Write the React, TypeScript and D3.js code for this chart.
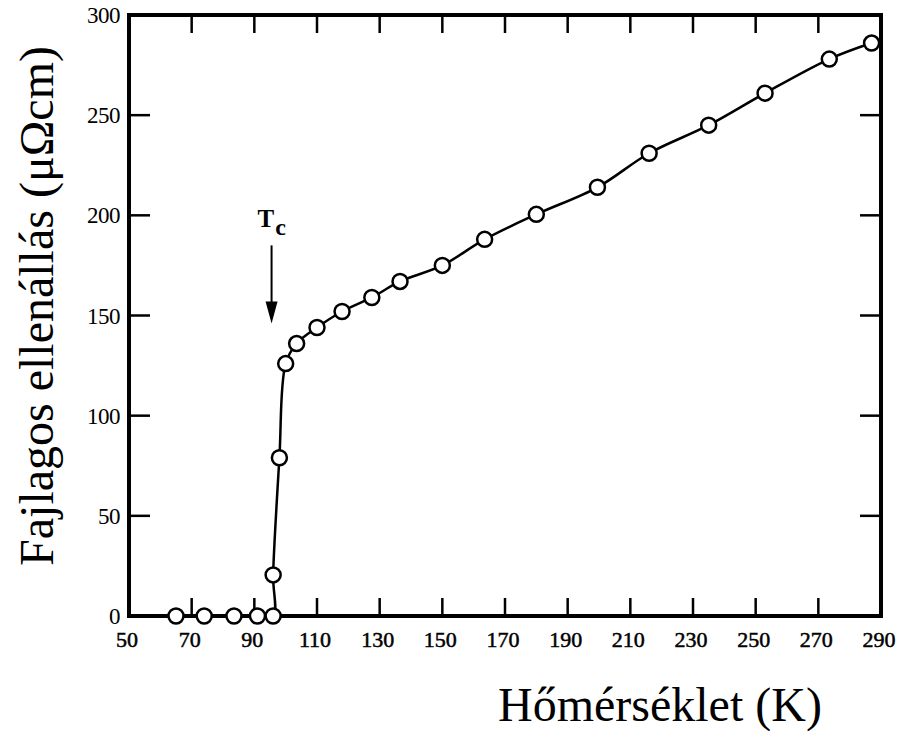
import React from "react";
import * as d3 from "d3";

const temperatures = [65, 74, 83.5, 91, 96, 96, 98, 100, 103.5, 110, 118, 127.5, 136.5, 150, 163.5, 180, 199.5, 216, 235, 253, 273.5, 287];
const resistivity = [0, 0, 0, 0, 0, 20.5, 79, 126, 136, 144, 152, 159, 167, 175, 188, 200.5, 214, 231, 245, 261, 278, 286];
const xTickValues = [50, 70, 90, 110, 130, 150, 170, 190, 210, 230, 250, 270, 290];
const yTickValues = [0, 50, 100, 150, 200, 250, 300];
const xTitle = "Hőmérséklet (K)";
const yTitle = "Fajlagos ellenállás (μΩcm)";
const tcLabel = "T";
const tcSub = "c";
const tcTemperature = 95.5;
const tcArrowFrom = 185;
const tcArrowTo = 146;

export default function App() {
  const W = 902, H = 731;
  const left = 129, right = 881, top = 15, bottom = 616;
  const x = d3.scaleLinear().domain([50, 290]).range([left, right]);
  const y = d3.scaleLinear().domain([0, 300]).range([bottom, top]);
  const pts = temperatures.map((t, i) => [t, resistivity[i]] as [number, number]);
  const line = d3
    .line<[number, number]>()
    .x((d) => x(d[0]))
    .y((d) => y(d[1]))
    .curve(d3.curveCatmullRom.alpha(0.5));
  const font = "'Liberation Serif', 'Times New Roman', serif";
  const tickLen = 18;
  const ax = x(tcTemperature);
  const a0 = y(tcArrowFrom), a1 = y(tcArrowTo);
  return (
    <svg width={W} height={H} style={{ position: "absolute", left: 0, top: 0, background: "#fff" }}>
      <rect x={0} y={0} width={W} height={H} fill="#fff" />
      {/* ticks */}
      {xTickValues.slice(1, -1).map((v) => (
        <g key={"xt" + v}>
          <line x1={x(v)} x2={x(v)} y1={bottom} y2={bottom - tickLen} stroke="#000" strokeWidth={2.5} />
          <line x1={x(v)} x2={x(v)} y1={top} y2={top + tickLen} stroke="#000" strokeWidth={2.5} />
        </g>
      ))}
      {yTickValues.slice(1, -1).map((v) => (
        <g key={"yt" + v}>
          <line x1={left} x2={left + 21} y1={y(v)} y2={y(v)} stroke="#000" strokeWidth={2.5} />
          <line x1={right} x2={right - 21} y1={y(v)} y2={y(v)} stroke="#000" strokeWidth={2.5} />
        </g>
      ))}
      {/* frame */}
      <rect x={left} y={top} width={right - left} height={bottom - top} fill="none" stroke="#000" strokeWidth={4} />
      {/* tick labels */}
      {xTickValues.map((v) => (
        <text key={"xl" + v} x={x(v) - 2} y={647} textAnchor="middle" fontFamily={font} fontSize={22} fill="#000" stroke="#000" strokeWidth={0.5}>
          {v}
        </text>
      ))}
      {yTickValues.map((v) => (
        <text key={"yl" + v} x={120} y={y(v) + 8} textAnchor="end" fontFamily={font} fontSize={23} fill="#000" letterSpacing={-0.5}>
          {v}
        </text>
      ))}
      {/* data line */}
      <path d={line(pts) || ""} fill="none" stroke="#000" strokeWidth={2.5} />
      {pts.map((d, i) => (
        <circle key={"p" + i} cx={x(d[0])} cy={y(d[1])} r={7.5} fill="#fff" stroke="#000" strokeWidth={2.5} />
      ))}
      {/* Tc annotation */}
      <text x={ax - 14} y={227} fontFamily={font} fontSize={25} fontWeight="bold" fill="#000">
        {tcLabel}
        <tspan fontSize={24} dx={1} dy={8}>{tcSub}</tspan>
      </text>
      <line x1={ax} x2={ax} y1={a0} y2={a1 - 18} stroke="#000" strokeWidth={2} />
      <path d={`M${ax - 6},${a1 - 22} L${ax + 6},${a1 - 22} L${ax},${a1} Z`} fill="#000" />
      {/* axis titles */}
      <text x={498} y={721} textAnchor="start" fontFamily={font} fontSize={48} fill="#000">
        {xTitle}
      </text>
      <text
        transform={`translate(53, 306) rotate(-90)`}
        textAnchor="middle"
        fontFamily={font}
        fontSize={48}
        fill="#000"
      >
        {yTitle}
      </text>
    </svg>
  );
}
